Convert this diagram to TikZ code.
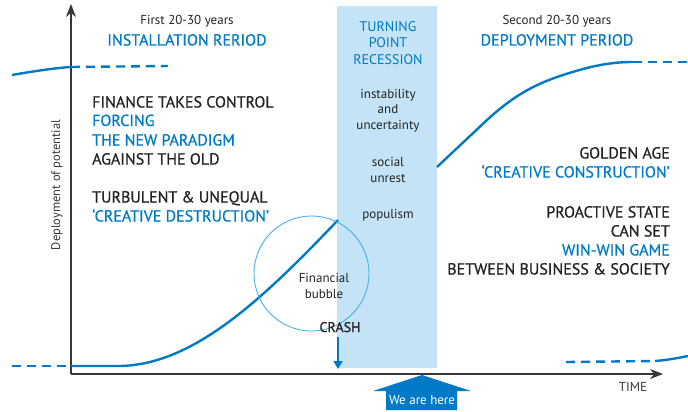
\documentclass[tikz,border=0pt]{standalone}
\usepackage{fontspec}
\setmainfont{PT Sans}
\newfontfamily\capsfont[FakeBold=0.7]{PT Sans}
\usetikzlibrary{arrows.meta}

\definecolor{wavblue}{RGB}{0,122,199}
\definecolor{bandblue}{RGB}{196,227,246}
\definecolor{bubbleblue}{RGB}{70,175,230}
\definecolor{inkgray}{RGB}{35,35,35}
\definecolor{axisgray}{RGB}{55,55,55}

\begin{document}
\begin{tikzpicture}[x=1pt,y=-1pt,
    curve/.style={wavblue,line width=2.4pt},
    dashcurve/.style={curve,dash pattern=on 9pt off 6pt},
    big/.style={inner sep=0pt,font=\capsfont\fontsize{16}{19}\selectfont},
    small/.style={inner sep=0pt,font=\fontsize{13}{16}\selectfont}]
  \useasboundingbox (0,0) rectangle (688,412);

  % turning point band (drawn first, curves run up to its edges)
  \fill[bandblue] (337,6) rectangle (437,368);

  % axes
  \coordinate (O) at (71,374);
  \coordinate (Ytop) at (71,4);
  \coordinate (Xend) at (663,374);
  \draw[axisgray,line width=1.5pt,-{Stealth[length=13pt,width=10pt]}] (O) -- (Ytop);
  \draw[axisgray,line width=1.5pt,-{Stealth[length=13pt,width=10pt]}] (O) -- (Xend);

  % first surge: old paradigm on top, new one starting at the bottom
  \draw[curve] (12,75) .. controls (35,71) and (55,68) .. (71,67);
  \draw[dashcurve] (71,67) -- (168,66);
  \draw[dashcurve] (12,366) -- (71,366);
  \coordinate (B0) at (71,366);
  \coordinate (Bend) at (338,220);
  \draw[curve] (B0) -- (118,366) .. controls (192,366) and (262,300) .. (Bend);

  % second half: deployment up to maturity
  \coordinate (D0) at (437,167);
  \draw[curve] (D0) -- (487,120) .. controls (510,99) and (530,86) .. (560,76)
    .. controls (590,66) and (610,62) .. (633,62);
  \draw[dashcurve] (633,62) -- (688,62);

  % next surge starting in the bottom right
  \draw[dashcurve] (566,362) -- (655,361);
  \draw[curve] (655,361) .. controls (668,360) and (678,358) .. (688,356);

  % financial bubble
  \draw[bubbleblue,line width=0.9pt] (311.5,273.5) circle (57.5);
  \node[small,text=inkgray] (fin) at (324,282) [anchor=base] {Financial};
  \node[small,text=inkgray] (bub) at (324,298) [anchor=base] {bubble};

  % crash
  \node[small,text=inkgray,font=\capsfont\fontsize{14}{16}\selectfont] (crash) at (340,332) [anchor=base] {CRASH};
  \coordinate (crashtip) at (338,369);
  \draw[wavblue,line width=1.4pt,-{Triangle[length=8pt,width=9pt]}] (338,337) -- (crashtip);

  % "we are here" marker
  \fill[wavblue] (373,391) -- (422,375) -- (471,391) -- (457,391) -- (457,410)
    -- (386,410) -- (386,391) -- cycle;
  \node[small,text=white] (here) at (422,404) [anchor=base] {We are here};

  % axis labels
  \node[small,text=axisgray,font=\fontsize{12.5}{15}\selectfont,rotate=90] (ylab) at (57,185) {Deployment of potential};
  \node[small,text=axisgray] (time) at (633,391) [anchor=base] {TIME};

  % period headings
  \node[small,text=inkgray] (first) at (187,24.5) [anchor=base] {First 20-30 years};
  \node[big,text=wavblue] (install) at (187,45.5) [anchor=base] {INSTALLATION RERIOD};
  \node[small,text=inkgray] (second) at (557,24.5) [anchor=base] {Second 20-30 years};
  \node[big,text=wavblue] (deploy) at (557,45.5) [anchor=base] {DEPLOYMENT PERIOD};

  % inside the band
  \node[small,text=wavblue,font=\fontsize{14}{16}\selectfont] (turn) at (388,32) [anchor=base] {TURNING};
  \node[small,text=wavblue,font=\fontsize{14}{16}\selectfont] (point) at (388,48) [anchor=base] {POINT};
  \node[small,text=wavblue,font=\fontsize{14}{16}\selectfont] (rec) at (388,64) [anchor=base] {RECESSION};
  \node[small,text=inkgray] (inst) at (388,98) [anchor=base] {instability};
  \node[small,text=inkgray] (and) at (388,113) [anchor=base] {and};
  \node[small,text=inkgray] (unc) at (388,129) [anchor=base] {uncertainty};
  \node[small,text=inkgray] (soc) at (388,166) [anchor=base] {social};
  \node[small,text=inkgray] (unr) at (388,182) [anchor=base] {unrest};
  \node[small,text=inkgray] (pop) at (388,218) [anchor=base] {populism};

  % installation side
  \node[big,text=inkgray] (l1) at (92,107.5) [anchor=base west] {FINANCE TAKES CONTROL};
  \node[big,text=wavblue] (l2) at (92,126) [anchor=base west] {FORCING};
  \node[big,text=wavblue] (l3) at (92,145.5) [anchor=base west] {THE NEW PARADIGM};
  \node[big,text=inkgray] (l4) at (92,164.5) [anchor=base west] {AGAINST THE OLD};
  \node[big,text=inkgray] (l5) at (92,202.5) [anchor=base west] {TURBULENT \& UNEQUAL};
  \node[big,text=wavblue] (l6) at (92,221.5) [anchor=base west] {‘CREATIVE DESTRUCTION’};

  % deployment side
  \node[big,text=inkgray] (r1) at (670,158.5) [anchor=base east] {GOLDEN AGE};
  \node[big,text=wavblue] (r2) at (670,177.5) [anchor=base east] {‘CREATIVE CONSTRUCTION’};
  \node[big,text=inkgray] (r3) at (670,217.5) [anchor=base east] {PROACTIVE STATE};
  \node[big,text=inkgray] (r4) at (670,236.5) [anchor=base east] {CAN SET};
  \node[big,text=wavblue] (r5) at (670,255.5) [anchor=base east] {WIN-WIN GAME};
  \node[big,text=inkgray] (r6) at (670,274.5) [anchor=base east] {BETWEEN BUSINESS \& SOCIETY};
\end{tikzpicture}
\end{document}
